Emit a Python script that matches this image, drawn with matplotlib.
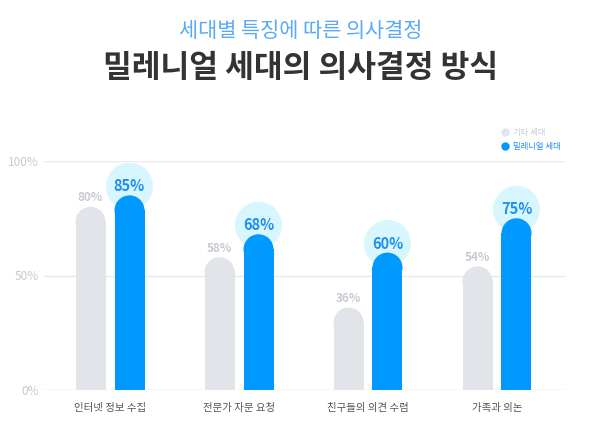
import matplotlib
matplotlib.use("Agg")
import matplotlib.pyplot as plt
import numpy as np
from matplotlib.lines import Line2D
from matplotlib.patches import Ellipse

plt.rcParams['font.family'] = ['Noto Sans CJK KR', 'DejaVu Sans']

categories = ["인터넷 정보 수집", "전문가 자문 요청", "친구들의 의견 수렴", "가족과 의논"]
other_gen = [80, 58, 36, 54]
millennial = [85, 68, 60, 75]
series_names = ["기타 세대", "밀레니얼 세대"]
yticks = [0, 50, 100]
ytick_labels = ["0%", "50%", "100%"]
subtitle = "세대별 특징에 따른 의사결정"
title = "밀레니얼 세대의 의사결정 방식"

GRAY = "#e1e4e9"
GRAY_TXT = "#c6cad1"
BLUE = "#0099ff"
BLUE_TXT = "#1e8ef5"
HALO = "#d8f6fd"

W, H, DPI = 601, 426, 100
fig = plt.figure(figsize=(W / DPI, H / DPI), dpi=DPI)
ax_l, ax_r, ax_b, ax_t = 44, 565, 390, 161
ax = fig.add_axes([ax_l / W, (H - ax_b) / H, (ax_r - ax_l) / W, (ax_b - ax_t) / H])

x = np.arange(len(categories))
group_px = 129.0
ax.set_xlim((ax_l - 110) / group_px, (ax_r - 110) / group_px)
ax.set_ylim(0, 100)

ppu_y = (ax_b - ax_t) / 100.0          # pixels per y unit
bar_px = 30
bw = bar_px / group_px
off = 19.5 / group_px
r_units = (bar_px / 2) / ppu_y

for vals, dx, col in [(other_gen, -off, GRAY), (millennial, off, BLUE)]:
    vals = np.array(vals, dtype=float)
    ax.bar(x + dx, vals - r_units + 0.3, width=bw, color=col, linewidth=0, zorder=3)
    for xi, v in zip(x + dx, vals):
        ax.add_patch(Ellipse((xi, v - r_units), width=bw, height=2 * r_units,
                             facecolor=col, linewidth=0, zorder=3))

lab_off = 9 / ppu_y
halo_r_px = 23.5
for xi, v in zip(x, millennial):
    ax.add_patch(Ellipse((xi + off, v + lab_off), width=2 * halo_r_px / group_px,
                         height=2 * halo_r_px / ppu_y, facecolor=HALO, linewidth=0,
                         zorder=2, clip_on=False))
    ax.text(xi + off, v + lab_off, f"{v}%", ha="center", va="center", fontsize=10.5,
            fontweight="bold", color=BLUE_TXT, zorder=5)
for xi, v in zip(x, other_gen):
    ax.text(xi - off, v + lab_off, f"{v}%", ha="center", va="center", fontsize=8.5,
            fontweight="bold", color=GRAY_TXT, zorder=5)

for s in ax.spines.values():
    s.set_visible(False)
ax.set_yticks(yticks)
ax.set_yticklabels(ytick_labels)
ax.grid(axis="y", color="#e8eaed", linewidth=1, zorder=0)
ax.tick_params(axis="y", length=0, pad=4, labelsize=8.5, labelcolor=GRAY_TXT)
ax.set_xticks(x)
ax.set_xticklabels(categories)
ax.tick_params(axis="x", length=0, pad=9, labelsize=7.5, labelcolor="#555555")
ax.axhline(0, color="#dde2e8", linewidth=1, zorder=1)

fig.text(0.5, 1 - 31 / H, subtitle, ha="center", va="center", fontsize=15, color="#5aaaf7")
fig.text(0.5, 1 - 68 / H, title, ha="center", va="center", fontsize=22.5, fontweight="heavy", color="#333333")

handles = [Line2D([], [], marker="o", linestyle="", markersize=6, color=GRAY, markeredgewidth=0),
           Line2D([], [], marker="o", linestyle="", markersize=6, color=BLUE, markeredgewidth=0)]
fig.legend(handles, series_names, loc="upper left", bbox_to_anchor=(497 / W, 1 - 124 / H),
           frameon=False, fontsize=6, labelcolor=[GRAY_TXT, BLUE_TXT], handlelength=0.8,
           handletextpad=0.6, borderpad=0, labelspacing=0.6)

fig.savefig("out.png", dpi=DPI, facecolor="white")
